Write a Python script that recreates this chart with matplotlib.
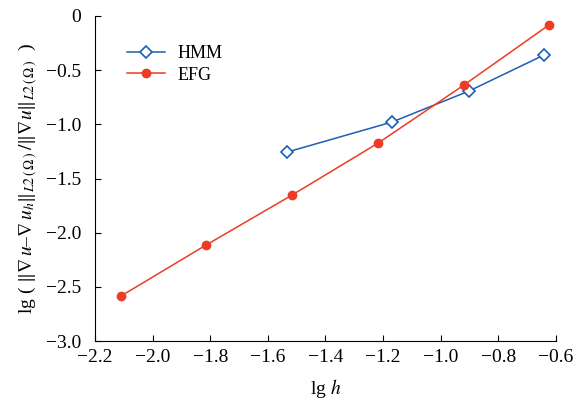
import matplotlib
matplotlib.use("Agg")
import matplotlib.pyplot as plt

hmm_x = [-1.533, -1.169, -0.901, -0.641]
hmm_y = [-1.256, -0.979, -0.692, -0.360]
efg_x = [-2.110, -1.815, -1.516, -1.217, -0.919, -0.624]
efg_y = [-2.585, -2.115, -1.653, -1.173, -0.637, -0.083]
xticks = [-2.2, -2.0, -1.8, -1.6, -1.4, -1.2, -1.0, -0.8, -0.6]
yticks = [0, -0.5, -1.0, -1.5, -2.0, -2.5, -3.0]

plt.rcParams['font.family'] = ['Liberation Serif', 'DejaVu Serif']
plt.rcParams['mathtext.fontset'] = 'stix'
plt.rcParams['axes.unicode_minus'] = True

fig = plt.figure(figsize=(5.76, 4.0), dpi=100)
ax = fig.add_axes([0.165, 0.1475, 0.8, 0.8125])

ax.plot(hmm_x, hmm_y, color='#1a5fb4', lw=1.1, marker='D', ms=6.5,
        mfc='white', mec='#1a5fb4', mew=1.2, label='HMM')
ax.plot(efg_x, efg_y, color='#ee3b24', lw=1.1, marker='o', ms=6,
        mfc='#ee3b24', mec='#ee3b24', label='EFG')

ax.set_xlim(-2.2, -0.6)
ax.set_ylim(-3.0, 0)
ax.set_xticks(xticks)
ax.set_yticks(yticks)
ax.set_xticklabels(['−2.2', '−2.0', '−1.8', '−1.6', '−1.4', '−1.2', '−1.0', '−0.8', '−0.6'])
ax.set_yticklabels(['0', '−0.5', '−1.0', '−1.5', '−2.0', '−2.5', '−3.0'])
ax.tick_params(direction='in', labelsize=14, length=4, width=0.8)
ax.tick_params(axis='x', pad=6)
ax.tick_params(axis='y', pad=10)
for s in ['top', 'right']:
    ax.spines[s].set_visible(False)

ax.set_xlabel(r'lg $h$', fontsize=14, labelpad=8)
ax.set_ylabel(r'lg ( $\Vert\nabla\, u$–$\nabla\, u_h\Vert_{L2\,(\,\Omega\,)}\,/\Vert\nabla u\Vert_{L2\,(\,\Omega\,)}$  )',
              fontsize=14, labelpad=4)

leg = ax.legend(loc='upper left', bbox_to_anchor=(0.035, 0.96), frameon=False,
                fontsize=13, handlelength=2.1, handletextpad=0.7, labelspacing=0.25)

fig.savefig('out.png', dpi=100)
